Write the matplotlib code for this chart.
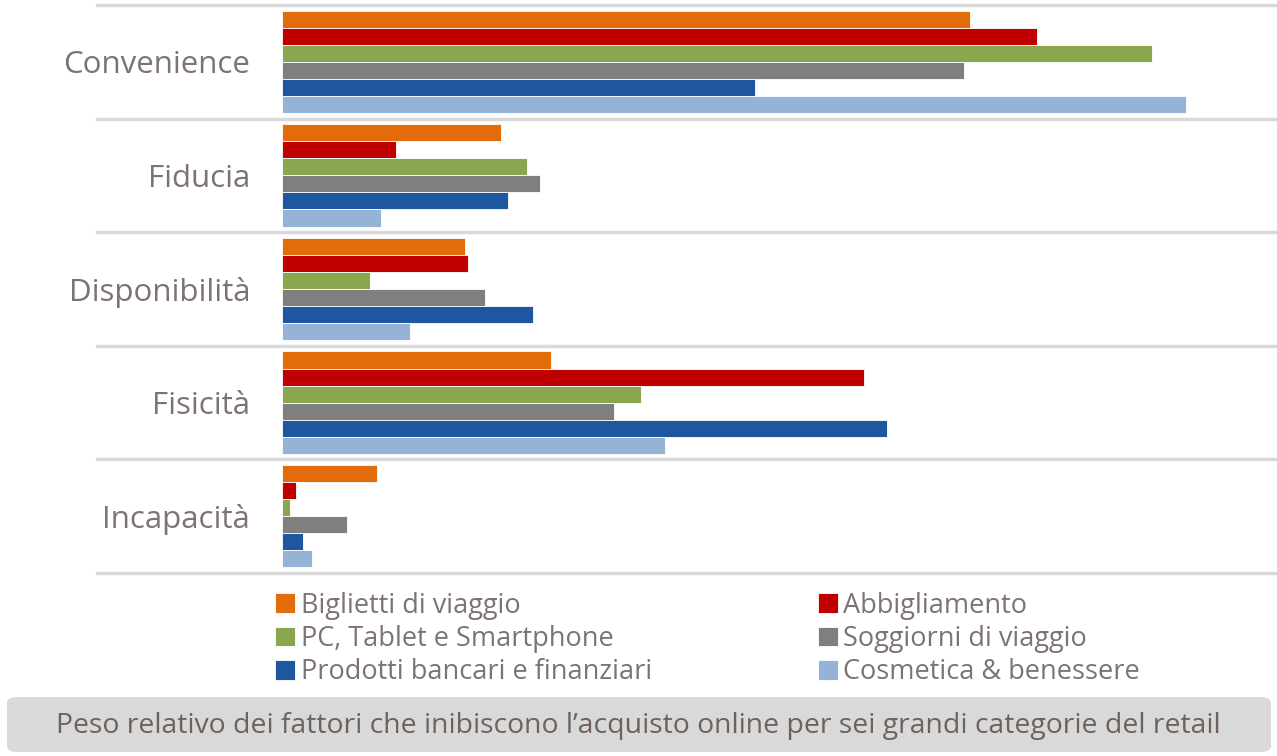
import matplotlib.pyplot as plt
from matplotlib.patches import FancyBboxPatch
import numpy as np

plt.rcParams["font.family"] = ["Open Sans", "DejaVu Sans"]

factors = ["Convenience", "Fiducia", "Disponibilità", "Fisicità", "Incapacità"]
series = [
    "Biglietti di viaggio",
    "Abbigliamento",
    "PC, Tablet e Smartphone",
    "Soggiorni di viaggio",
    "Prodotti bancari e finanziari",
    "Cosmetica & benessere",
]
colors = ["#e36c0a", "#c00000", "#8aa64f", "#7f7f7f", "#1f56a0", "#95b3d7"]

# relative weight
biglietti = [68.8, 21.9, 18.3, 26.9, 9.5]
abbigliamento = [75.5, 11.4, 18.6, 58.2, 1.4]
pc_tablet = [87.0, 24.5, 8.8, 35.9, 0.8]
soggiorni = [68.2, 25.8, 20.3, 33.2, 6.5]
bancari = [47.3, 22.6, 25.1, 60.5, 2.1]
cosmetica = [90.4, 9.9, 12.8, 38.3, 3.0]
values = [biglietti, abbigliamento, pc_tablet, soggiorni, bancari, cosmetica]

text_col = "#7d7372"
line_col = "#d9d9d9"

fig = plt.figure(figsize=(12.77, 7.56), dpi=100)
ax = fig.add_axes([282 / 1277, 1 - 573 / 756, 993 / 1277, 568 / 756])

y = np.arange(len(factors))
h = 0.15
for i, (vals, c) in enumerate(zip(values, colors)):
    ax.barh(y + (i - 2.5) * h, vals, height=h, color=c, label=series[i],
            edgecolor="white", linewidth=0.6)

ax.set_ylim(len(factors) - 0.5, -0.5)
ax.set_xlim(0, 99.3)
ax.set_xticks([])
ax.set_yticks(y)
ax.set_yticklabels(factors, fontsize=22.5, color=text_col)
ax.tick_params(axis="y", length=0, pad=23)
for s in ax.spines.values():
    s.set_visible(False)

# separators between groups, extended into label area
x0 = (97 - 282) / 993
for b in np.arange(-0.5, len(factors), 1.0):
    ax.plot([x0, 1], [b, b], transform=ax.get_yaxis_transform(), color=line_col,
            lw=2.5, clip_on=False, zorder=0)

# legend filled row by row, two columns
handles, labels = ax.get_legend_handles_labels()
order = [0, 2, 4, 1, 3, 5]
leg = fig.legend([handles[k] for k in order], [labels[k] for k in order],
                 ncol=2, loc="upper left",
                 bbox_to_anchor=(264 / 1277, 1 - 581 / 756), frameon=False,
                 fontsize=19.5, handlelength=0.75, handleheight=0.75,
                 handletextpad=0.2, columnspacing=6.12, labelspacing=0.19,
                 borderaxespad=0)
for t in leg.get_texts():
    t.set_color(text_col)

box = FancyBboxPatch((7 / 1277, 1 - 752 / 756), 1264 / 1277, 55 / 756,
                     boxstyle="round,pad=0,rounding_size=0.008",
                     transform=fig.transFigure, facecolor="#d9d9d9",
                     edgecolor="none")
fig.patches.append(box)
fig.text(0.5, 1 - 726 / 756,
         "Peso relativo dei fattori che inibiscono l\u2019acquisto online per sei grandi categorie del retail",
         ha="center", va="center", fontsize=20.4, color="#6f625c")

fig.savefig("out.png", dpi=100)
